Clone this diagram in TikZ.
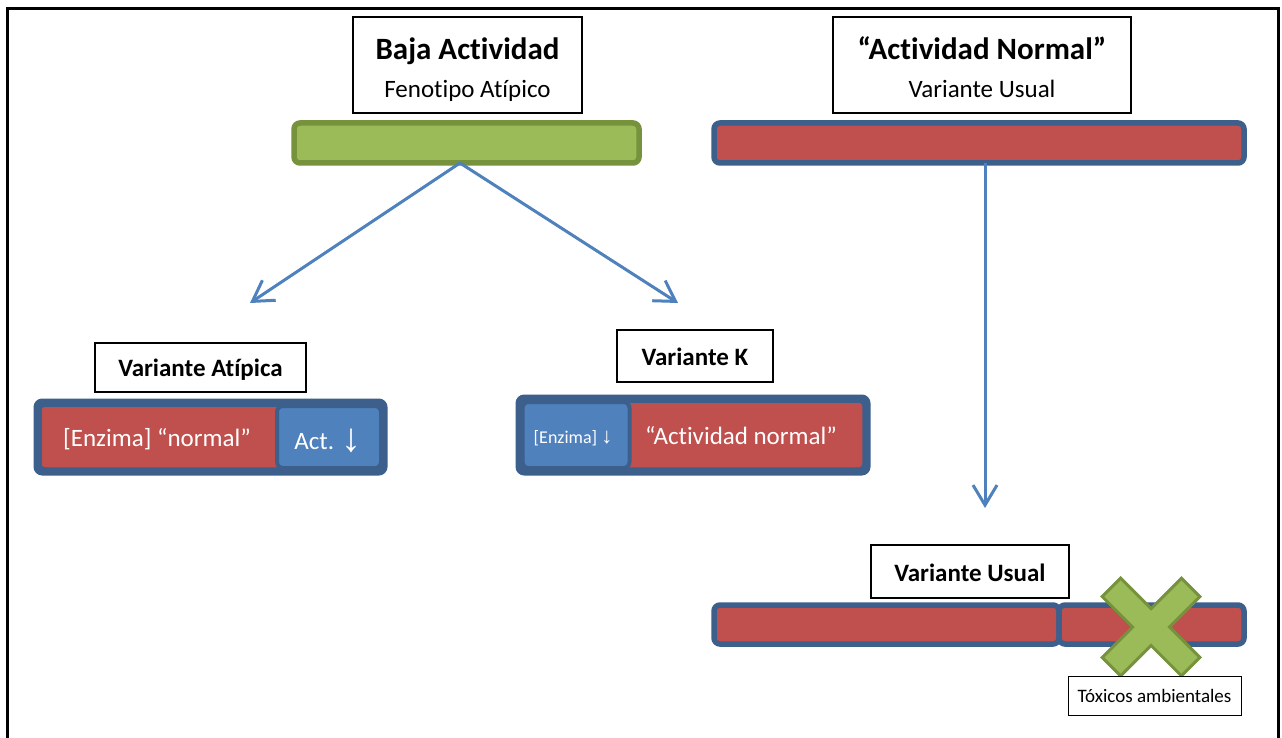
\documentclass[tikz,border=0pt]{standalone}
\usepackage{fontspec}
\setmainfont{Carlito}[Ligatures=NoCommon]
\newfontfamily\symfont{Liberation Sans}
\usetikzlibrary{arrows.meta}
\definecolor{cred}{HTML}{C0504D}
\definecolor{cblue}{HTML}{4F81BD}
\definecolor{cdblue}{HTML}{3C5F8C}
\definecolor{cgreen}{HTML}{9BBB59}
\definecolor{cdgreen}{HTML}{76923C}
\tikzset{
  lbox/.style={draw=black, line width=1.3pt, fill=white, inner sep=0pt},
  redbar/.style={draw=cdblue, fill=cred, line width=5.5pt, rounded corners=6pt, inner sep=0pt},
  bluebar/.style={draw=cdblue, fill=cblue, line width=4pt, rounded corners=6pt, inner sep=0pt},
  greenbar/.style={draw=cdgreen, fill=cgreen, line width=5.5pt, rounded corners=6pt, inner sep=0pt},
  conn/.style={draw=cblue, line width=3pt, -{Straight Barb[length=20pt,width=24pt,line width=3pt]}},
  ttl/.style={font=\bfseries\fontsize{31}{36}\selectfont, inner sep=0pt, anchor=base},
  sub/.style={font=\fontsize{25}{30}\selectfont, inner sep=0pt, anchor=base},
  lbl/.style={font=\bfseries\fontsize{25}{30}\selectfont, inner sep=0pt, anchor=base},
  wtxt/.style={text=white, font=\fontsize{25}{30}\selectfont, inner sep=0pt, anchor=base},
}
\begin{document}
\begin{tikzpicture}[x=1pt,y=-1pt]
\useasboundingbox (0,0) rectangle (1282,738);
\fill[white] (0,0) rectangle (1282,738);
% frame
\draw[line width=3pt] (7,745) -- (7,9) -- (1278,9) -- (1278,745);

% top left
\node[lbox, minimum width=229pt, minimum height=96pt] (baja) at (467.5,65) {};
\node[ttl] (bajat) at (467.5,60) {Baja Actividad};
\node[sub] (bajas) at (467.5,98) {Fenotipo Atípico};
\node[greenbar, minimum width=345pt, minimum height=40pt] (gbar) at (466.5,143) {};

% top right
\node[lbox, minimum width=298pt, minimum height=96pt] (norm) at (982,65) {};
\node[ttl] (normt) at (982,60) {“Actividad Normal”};
\node[sub] (norms) at (982,98) {Variante Usual};
\node[redbar, minimum width=530pt, minimum height=40pt] (rbar) at (979,143) {};

% arrows
\coordinate (ga) at (460,163);
\coordinate (ta) at (250,303);
\coordinate (tk) at (678,303);
\coordinate (ra) at (985,163);
\coordinate (tu) at (985,508);
\draw[conn] (ga) -- (ta);
\draw[conn] (ga) -- (tk);
\draw[conn] (ra) -- (tu);

% Variante Atipica
\node[lbox, minimum width=211pt, minimum height=49pt] (va) at (200.5,367.5) {};
\node[lbl] at (200.5,376) {Variante Atípica};
\node[redbar, minimum width=343pt, minimum height=66pt] (vabar) at (210.5,437) {};
\node[bluebar, minimum width=104pt, minimum height=62pt] (vablk) at (329,437) {};
\draw[draw=cdblue, line width=5.5pt, rounded corners=6pt] (vabar.north west) rectangle (vabar.south east);
\node[wtxt] at (157,446) {[Enzima] “normal”};
\node[wtxt] at (328,449) {Act. {\symfont\fontsize{40}{42}\selectfont\raisebox{-2pt}{↓}}};

% Variante K
\node[lbox, minimum width=156pt, minimum height=52pt] (vk) at (695,356) {};
\node[lbl] at (695,365) {Variante K};
\node[redbar, minimum width=344pt, minimum height=70pt] (vkbar) at (693,435) {};
\node[bluebar, minimum width=107pt, minimum height=66pt] (vkblk) at (576,435) {};
\draw[draw=cdblue, line width=5.5pt, rounded corners=6pt] (vkbar.north west) rectangle (vkbar.south east);
\node[text=white, font=\fontsize{18}{21}\selectfont, inner sep=0pt, anchor=base] at (573,443) {[Enzima] {\symfont\fontsize{22}{24}\selectfont ↓}};
\node[wtxt] at (741,444) {“Actividad normal”};

% Variante Usual
\node[lbox, minimum width=198pt, minimum height=53pt] (vu) at (970,571.5) {};
\node[lbl] at (970,581) {Variante Usual};
\node[redbar, minimum width=345pt, minimum height=39pt] (ubar1) at (886.5,624.5) {};
\node[redbar, minimum width=185pt, minimum height=39pt] (ubar2) at (1151.5,624.5) {};

% green X
\begin{scope}[shift={(1151,627)}, rotate=45]
\draw[draw=cdgreen, fill=cgreen, line width=3pt, line join=miter]
  (13,56) -- (13,13) -- (56,13) -- (56,-13) -- (13,-13) -- (13,-56)
  -- (-13,-56) -- (-13,-13) -- (-56,-13) -- (-56,13) -- (-13,13) -- (-13,56) -- cycle;
\end{scope}
\node[lbox, line width=1pt, minimum width=173pt, minimum height=39pt] (tox) at (1154.5,695.5) {};
\node[font=\fontsize{19}{22}\selectfont, inner sep=0pt, anchor=base] at (1154.5,702) {Tóxicos ambientales};
\end{tikzpicture}
\end{document}
